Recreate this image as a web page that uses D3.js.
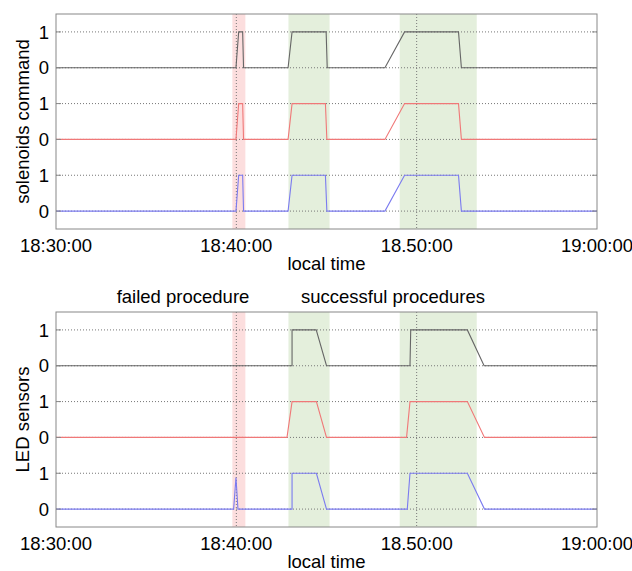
<!DOCTYPE html>
<html>
<head>
<meta charset="utf-8">
<script src="https://cdn.jsdelivr.net/npm/d3@7"></script>
<style>
  body { margin: 0; background: #fff; }
  svg { display: block; font-family: "Liberation Sans", Arial, sans-serif; }
</style>
</head>
<body>
<svg id="chart" width="632" height="571"></svg>
<script>
// times are minutes after 18:30:00
const tickMinutes = [0, 10, 20, 30];
const tickLabels = ["18:30:00", "18:40:00", "18.50:00", "19:00:00"];
const gridMinutes = [10, 20];
const levelLabels = ["0", "1", "0", "1", "0", "1"];

// shaded procedure windows [start, end]
const failedBand = [9.78, 10.5];
const successBands = [[12.89, 15.17], [19.06, 23.33]];

// solenoids command (top panel)
const cmdBlackT = [0, 9.98, 10.13, 10.35, 10.4, 12.87, 13.09, 14.98, 15.04, 18.24, 19.33, 22.32, 22.48, 30];
const cmdBlackV = [0, 0, 1, 1, 0, 0, 1, 1, 0, 0, 1, 1, 0, 0];
const cmdRedT = [0, 9.98, 10.13, 10.35, 10.4, 12.87, 13.09, 14.94, 15.02, 18.24, 19.33, 22.32, 22.48, 30];
const cmdRedV = [0, 0, 1, 1, 0, 0, 1, 1, 0, 0, 1, 1, 0, 0];
const cmdBlueT = [0, 9.98, 10.13, 10.35, 10.4, 12.87, 13.09, 14.94, 15.02, 18.24, 19.33, 22.32, 22.48, 30];
const cmdBlueV = [0, 0, 1, 1, 0, 0, 1, 1, 0, 0, 1, 1, 0, 0];

// LED sensors (bottom panel)
const ledBlackT = [0, 13.09, 13.09, 14.43, 15.0, 19.63, 19.67, 22.81, 23.74, 30];
const ledBlackV = [0, 0, 1, 1, 0, 0, 1, 1, 0, 0];
const ledRedT = [0, 12.81, 13.09, 14.44, 15.0, 19.44, 19.63, 22.81, 23.76, 30];
const ledRedV = [0, 0, 1, 1, 0, 0, 1, 1, 0, 0];
const ledBlueT = [0, 9.85, 9.98, 10.09, 13.09, 13.09, 14.44, 15.0, 19.48, 19.63, 22.81, 23.76, 30];
const ledBlueV = [0, 0, 0.88, 0, 0, 1, 1, 0, 0, 1, 1, 0, 0];

const width = 632;
const fontSize = 18.5;
const margin = { left: 56, right: 35 };
const panels = [
  { top: 14, bottom: 229, ylabel: "solenoids command",
    traces: [[cmdBlackT, cmdBlackV, 4, "#666"], [cmdRedT, cmdRedV, 2, "#f07878"], [cmdBlueT, cmdBlueV, 0, "#7b7bf0"]] },
  { top: 312, bottom: 527, ylabel: "LED sensors",
    traces: [[ledBlackT, ledBlackV, 4, "#666"], [ledRedT, ledRedV, 2, "#f07878"], [ledBlueT, ledBlueV, 0, "#7b7bf0"]] }
];

const svg = d3.select("#chart");
const x = d3.scaleLinear().domain([0, 30]).range([margin.left, width - margin.right]);

panels.forEach(p => {
  const y = d3.scaleLinear().domain([-0.5, 5.5]).range([p.bottom, p.top]);
  const g = svg.append("g");

  // shaded bands
  g.append("rect")
    .attr("x", x(failedBand[0])).attr("width", x(failedBand[1]) - x(failedBand[0]))
    .attr("y", p.top).attr("height", p.bottom - p.top)
    .attr("fill", "#fcdede");
  g.selectAll("rect.ok").data(successBands).enter().append("rect")
    .attr("class", "ok")
    .attr("x", d => x(d[0])).attr("width", d => x(d[1]) - x(d[0]))
    .attr("y", p.top).attr("height", p.bottom - p.top)
    .attr("fill", "#e4efdc");

  // dotted grid
  g.selectAll("line.hg").data(d3.range(6)).enter().append("line")
    .attr("x1", x(0)).attr("x2", x(30))
    .attr("y1", d => y(d)).attr("y2", d => y(d))
    .attr("stroke", "#777").attr("stroke-width", 1)
    .attr("stroke-dasharray", "1,2");
  g.selectAll("line.vg").data(gridMinutes).enter().append("line")
    .attr("x1", d => x(d)).attr("x2", d => x(d))
    .attr("y1", p.top).attr("y2", p.bottom)
    .attr("stroke", "#777").attr("stroke-width", 1)
    .attr("stroke-dasharray", "1,2");

  // traces
  const line = d3.line().x(d => x(d[0])).y(d => d[1]);
  p.traces.forEach(([ts, vs, off, color]) => {
    const pts = ts.map((t, i) => [t, y(vs[i] + off)]);
    g.append("path").datum(pts)
      .attr("d", line)
      .attr("fill", "none")
      .attr("stroke", color)
      .attr("stroke-width", 1.1);
  });

  // frame
  g.append("rect")
    .attr("x", x(0)).attr("y", p.top)
    .attr("width", x(30) - x(0)).attr("height", p.bottom - p.top)
    .attr("fill", "none").attr("stroke", "#888").attr("stroke-width", 1);

  // tick marks on frame
  g.selectAll("line.yt").data(d3.range(6)).enter().append("line")
    .attr("x1", x(0)).attr("x2", x(0) + 5)
    .attr("y1", d => y(d)).attr("y2", d => y(d))
    .attr("stroke", "#888");
  g.selectAll("line.yt2").data(d3.range(6)).enter().append("line")
    .attr("x1", x(30) - 5).attr("x2", x(30))
    .attr("y1", d => y(d)).attr("y2", d => y(d))
    .attr("stroke", "#888");

  // y level labels
  g.selectAll("text.yl").data(levelLabels).enter().append("text")
    .attr("x", 49).attr("y", (d, i) => y(i))
    .attr("dy", "0.36em")
    .attr("text-anchor", "end")
    .attr("font-size", fontSize)
    .text(d => d);

  // x tick labels
  g.selectAll("text.xl").data(tickMinutes).enter().append("text")
    .attr("x", d => x(d)).attr("y", p.bottom + 22.5)
    .attr("text-anchor", "middle")
    .attr("font-size", fontSize)
    .text((d, i) => tickLabels[i]);

  g.append("text")
    .attr("x", (x(0) + x(30)) / 2).attr("y", p.bottom + 41)
    .attr("text-anchor", "middle")
    .attr("font-size", fontSize)
    .text("local time");

  g.append("text")
    .attr("transform", `translate(22,${(p.top + p.bottom) / 2}) rotate(-90)`)
    .attr("dy", "0.36em")
    .attr("text-anchor", "middle")
    .attr("font-size", fontSize)
    .text(p.ylabel);
});

// procedure titles
svg.append("text")
  .attr("x", 183).attr("y", 303)
  .attr("text-anchor", "middle").attr("font-size", fontSize)
  .text("failed procedure");
svg.append("text")
  .attr("x", 393).attr("y", 303)
  .attr("text-anchor", "middle").attr("font-size", fontSize)
  .text("successful procedures");
</script>
</body>
</html>
